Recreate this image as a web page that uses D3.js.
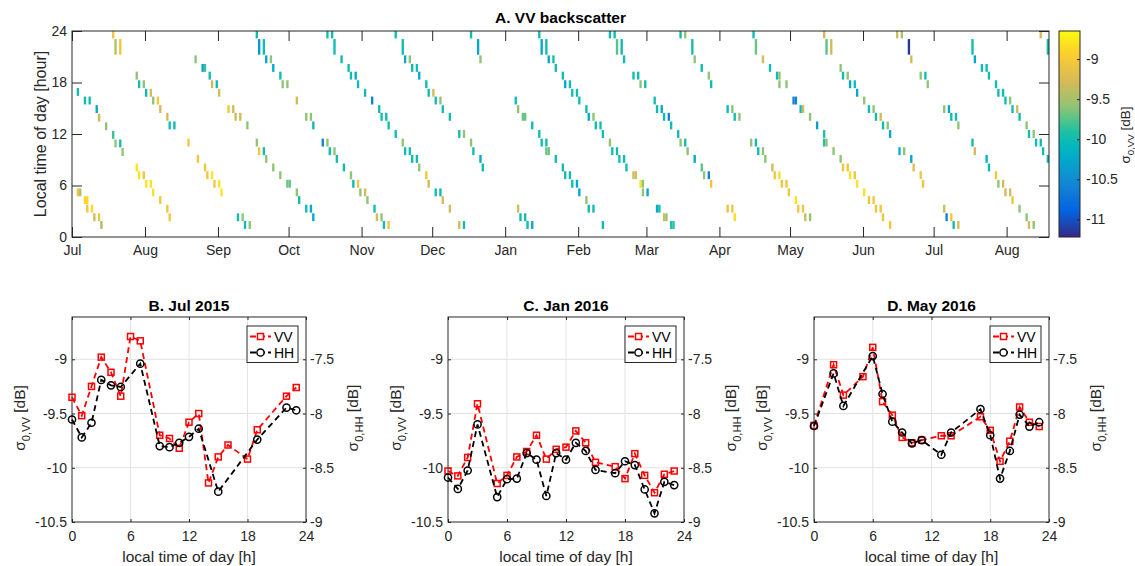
<!DOCTYPE html>
<html lang="en">
<head>
<meta charset="UTF-8">
<title>VV backscatter</title>
<script src="https://d3js.org/d3.v7.min.js"></script>
<style>
  body { margin: 0; background: #fff; }
  svg { font-family: "Liberation Sans", Arial, Helvetica, sans-serif; }
</style>
</head>
<body>
<svg width="1135" height="566"></svg>
<script>
// passes: [days since 1 Jul 2015, local hour, sigma0 VV dB]
const passesJul15 = [
  [2,16.9,-10.0],[5,15.9,-10.0],[7,15.9,-10.0],[10,14.9,-10.25],[11,13.9,-9.35],[14,12.9,-9.6],
  [17,11.9,-9.85],[18,10.9,-9.6],[20,10.9,-9.95],[21,9.9,-9.6],
  [2,5.2,-9.05],[3,5.2,-9.5],[5,4.3,-8.9],[6,4.3,-8.9],[6,3.3,-9.05],[8,3.3,-8.85],[9,2.3,-9.3],
  [11,2.3,-9.05],[12,1.4,-9.5],
  [17,23.6,-9.05],[18,22.6,-9.4],[18,21.7,-9.4],[20,22.6,-9.05],[20,21.7,-9.05],
  [27,8.1,-8.8],[28,7.2,-8.8],[30,7.2,-9.05],[27,18.8,-9.6],[28,17.8,-10.0],[30,17.8,-9.6]
];
const passesAug15 = [
  [31,6.2,-8.8],[33,6.2,-8.8],[34,5.2,-8.8],[37,4.3,-9.05],[40,3.3,-9.05],[41,2.3,-9.05],
  [31,16.8,-10.0],[33,16.8,-9.3],[34,15.9,-9.6],[36,15.9,-9.05],[37,14.9,-9.3],[40,14.0,-9.3],
  [41,13.0,-10.0],[43,13.0,-10.0],
  [49,11.0,-9.05],[53,9.1,-9.05],[56,8.1,-9.05],[57,7.2,-9.05],[59,7.2,-8.8],[60,6.2,-9.05],
  [52,20.7,-9.6],[55,19.7,-10.35],[56,19.7,-9.85],[58,18.8,-10.0],[59,17.8,-9.3],[61,17.8,-10.0]
];
const passesSep15 = [
  [62,6.2,-8.8],[63,5.2,-8.8],
  [62,16.8,-9.3],[66,14.9,-9.05],[68,14.9,-9.3],[69,14.0,-9.3],[71,14.0,-9.3],[74,13.0,-9.6],
  [78,11.0,-9.6],[79,10.0,-9.05],[81,10.0,-10.0],
  [70,2.3,-10.0],[72,2.3,-9.6],[73,1.4,-10.0],[75,1.4,-9.6],
  [78,23.6,-10.0],[79,22.6,-10.4],[79,21.7,-10.4],[81,22.6,-10.0],[81,21.7,-10.0],
  [82,20.7,-10.25],[84,20.7,-9.6],[85,19.7,-10.25],[88,18.8,-10.0],[89,17.8,-9.6],[91,17.8,-9.6],
  [82,9.1,-9.6],[85,8.1,-9.6],[88,7.2,-9.6],[91,6.2,-9.7]
];
const passesOct15 = [
  [92,6.2,-9.7],[95,5.2,-9.6],[96,4.3,-10.0],[99,3.3,-10.0],[101,3.3,-10.25],[102,2.3,-10.25],
  [95,15.9,-9.3],[99,14.0,-9.6],[101,14.0,-9.6],[102,13.0,-10.0],
  [106,11.0,-10.6],[108,11.0,-9.6],[109,10.0,-10.0],[111,10.0,-9.6],[112,9.1,-10.0],[115,8.1,-10.0],
  [118,7.2,-9.6],[119,6.2,-10.0],[121,6.2,-9.05],[122,5.2,-9.6],
  [108,23.6,-10.0],[110,23.6,-10.0],[111,22.6,-10.0],[111,21.7,-10.0],[114,20.7,-10.0],[117,19.7,-10.0],
  [118,18.8,-10.0],[120,18.8,-10.25],[121,17.8,-10.0]
];
const passesNov15 = [
  [124,5.2,-9.3],[125,4.3,-9.6],[128,3.3,-10.0],[129,2.3,-9.3],[131,2.3,-9.6],[132,1.4,-10.0],[134,1.4,-9.05],
  [124,16.8,-10.0],[127,15.9,-10.6],[130,14.9,-10.0],[131,14.0,-10.0],[133,14.0,-10.0],[134,13.0,-10.0],[137,12.0,-10.0],
  [137,23.6,-10.0],[140,22.6,-10.0],[140,21.7,-10.0],[141,20.7,-10.25],[143,20.7,-9.6],[144,19.7,-10.0],
  [146,19.7,-10.0],[147,18.8,-10.25],[150,17.8,-10.0],[151,16.8,-10.0],
  [140,11.0,-9.6],[141,10.0,-10.0],[143,10.0,-10.0],[144,9.1,-10.0],[146,9.1,-10.0],[147,8.1,-9.6],
  [150,7.2,-9.05],[151,6.2,-9.3]
];
const passesDec15 = [
  [153,16.8,-9.3],[154,15.9,-10.0],[156,15.9,-9.6],[157,14.9,-10.0],[160,14.0,-10.0],[164,12.0,-10.0],[166,12.0,-9.6],
  [154,5.2,-10.0],[156,5.2,-10.0],[157,4.3,-9.3],[160,3.3,-9.3],[164,1.4,-9.3],[166,1.4,-10.0],
  [169,23.6,-10.0],[172,22.6,-10.25],[172,21.7,-10.25],[173,20.7,-9.6],
  [169,11.0,-9.6],[170,10.0,-10.0],[173,9.1,-10.25],[174,8.1,-10.0]
];
const passesJan16 = [
  [188,15.9,-10.0],[189,14.9,-9.6],[191,14.0,-9.7],[192,14.0,-9.7],[195,13.0,-10.0],[198,12.0,-10.0],
  [199,11.0,-10.0],[201,11.0,-10.0],[201,10.0,-9.7],[202,10.0,-9.7],[205,9.1,-10.0],[208,8.1,-10.0],
  [209,7.2,-10.0],[211,7.2,-10.0],[212,6.2,-10.0],[214,6.2,-10.25],
  [189,3.3,-9.3],[190,2.3,-10.0],[192,2.3,-10.0],[193,1.4,-10.0],[195,1.4,-10.25],
  [198,23.6,-10.0],[199,22.6,-10.25],[199,21.7,-10.25],[201,22.6,-10.0],[201,21.7,-10.0],[202,20.7,-10.25],
  [204,20.7,-10.0],[205,19.7,-10.0],[208,18.8,-10.0],[209,17.8,-10.25],[211,17.8,-10.0],[212,16.8,-10.0],[214,16.8,-10.0]
];
const passesFeb16 = [
  [215,5.2,-10.25],[218,4.3,-9.6],[219,3.3,-10.0],[221,3.3,-10.0],[225,1.4,-10.0],
  [215,15.9,-10.0],[218,14.9,-10.0],[219,14.0,-10.25],[221,14.0,-9.6],[222,13.0,-10.0],[224,13.0,-10.0],
  [225,12.0,-10.0],[228,11.0,-9.6],[229,10.0,-10.0],[231,10.0,-10.0],[232,9.1,-10.0],[234,9.1,-10.0],
  [235,8.1,-10.0],[238,7.2,-9.3],[239,7.2,-9.3],[241,6.2,-8.8],[242,6.2,-9.6],[242,5.2,-9.6],
  [228,23.6,-10.0],[230,23.6,-10.0],[231,22.6,-9.75],[231,21.7,-9.75],[233,22.6,-10.0],[233,21.7,-10.0],
  [234,20.7,-10.0],[238,18.8,-10.0],[240,18.8,-10.0],[241,17.8,-9.6],[243,17.8,-10.0]
];
const passesMar16 = [
  [244,5.2,-10.25],[248,3.3,-10.25],[249,3.3,-10.0],[251,2.3,-9.3],[252,2.3,-9.6],[254,1.4,-9.9],[255,1.4,-9.9],
  [247,15.9,-10.0],[248,14.9,-10.0],[250,14.9,-10.25],[251,14.0,-10.0],[253,14.0,-10.6],[254,13.0,-10.0],
  [257,12.0,-10.0],[258,11.0,-9.6],[260,11.0,-10.0],[261,10.0,-9.6],[264,9.1,-10.25],[267,8.1,-9.75],
  [268,7.2,-9.6],[270,7.2,-10.6],[271,6.2,-9.05],
  [258,23.6,-10.0],[260,23.6,-9.6],[263,22.6,-9.95],[263,21.7,-9.95],[264,20.7,-9.6],[267,19.7,-10.0],
  [270,18.8,-9.6],[271,17.8,-10.0]
];
const passesApr16 = [
  [278,14.9,-10.0],[280,14.9,-9.6],[281,14.0,-10.0],[283,14.0,-9.6],
  [278,3.3,-9.15],[280,3.3,-9.05],[281,2.3,-8.85],
  [288,11.0,-9.6],[290,11.0,-10.0],[291,10.0,-10.0],[293,10.0,-9.6],[294,9.1,-9.6],[297,8.1,-9.3],
  [298,7.2,-9.05],[300,7.2,-8.8],[301,6.2,-9.05],[303,6.2,-9.05],[304,5.2,-9.05],
  [289,23.6,-10.0],[290,22.6,-9.7],[290,21.7,-9.7],[293,20.7,-9.3],[296,19.7,-10.0],[299,18.8,-10.0],
  [300,18.8,-9.6],[300,17.8,-9.6],[303,17.8,-9.6]
];
const passesMay16 = [
  [307,4.3,-8.8],[308,3.3,-9.05],[310,3.3,-9.05],[311,2.3,-9.3],[313,2.3,-9.6],
  [306,15.9,-10.6],[307,15.9,-10.6],[309,14.9,-10.0],[310,14.9,-9.35],[313,14.0,-9.6],[316,13.0,-10.3],
  [319,12.0,-9.9],[319,11.0,-9.9],[320,11.0,-9.6],[323,10.0,-9.6],[326,9.1,-9.6],[327,8.1,-9.05],
  [329,8.1,-9.05],[330,7.2,-8.8],[332,7.2,-9.05],[333,6.2,-8.8],
  [319,23.6,-9.3],[320,22.6,-9.75],[320,21.7,-9.75],[322,22.6,-9.3],[322,21.7,-9.3],[326,19.7,-9.6],
  [327,18.8,-10.0],[329,18.8,-9.6],[330,17.8,-10.25],[332,17.8,-10.0],[333,16.8,-10.25]
];
const passesJun16 = [
  [336,15.9,-9.6],[338,14.9,-10.0],[340,14.9,-9.6],[341,14.0,-10.0],[343,14.0,-9.3],[344,13.0,-10.0],
  [346,13.0,-9.6],[347,12.0,-10.25],[351,10.0,-10.15],[353,10.0,-9.6],[356,9.1,-10.25],[357,8.1,-9.2],
  [360,7.2,-9.05],[361,6.2,-9.05],
  [336,5.2,-8.8],[338,4.3,-9.05],[340,4.3,-9.05],[341,3.3,-9.05],[343,3.3,-9.05],[344,2.3,-9.05],[347,1.4,-9.05],
  [350,23.6,-9.3],[352,23.6,-9.5],[355,22.6,-11.15],[355,21.7,-11.15],[356,20.7,-9.3],[360,18.8,-9.6],
  [362,18.8,-10.0],[363,17.8,-9.6]
];
const passesJul16 = [
  [370,14.9,-9.6],[372,14.9,-10.25],[373,14.0,-10.0],[375,14.0,-10.0],[376,13.0,-9.6],
  [370,3.3,-9.3],[371,2.3,-10.6],[373,2.3,-9.05],[374,1.4,-10.0],[376,1.4,-9.3],
  [382,22.6,-10.0],[382,21.7,-10.0],[383,20.7,-10.25],[386,19.7,-10.0],[388,19.7,-10.0],[389,18.8,-10.0],
  [392,17.8,-10.0],[393,16.8,-10.0],[395,16.8,-10.0],[396,15.9,-10.0],
  [382,11.0,-10.0],[383,10.0,-9.3],[388,9.1,-10.15],[389,8.1,-10.0],[392,7.2,-9.05],[393,6.2,-9.6],
  [395,6.2,-9.3],[396,5.2,-9.3]
];
const passesAug16 = [
  [398,15.9,-9.6],[399,14.9,-10.0],[401,14.9,-9.3],[402,14.0,-10.0],[405,13.0,-9.6],[406,12.0,-10.0],
  [408,12.0,-9.6],[409,11.0,-10.0],[411,11.0,-10.0],[412,10.0,-10.0],[414,9.1,-10.0],
  [398,5.2,-9.3],[399,4.3,-9.05],[402,3.3,-9.6],[405,2.3,-9.6],[406,1.4,-9.3],[408,1.4,-9.6],
  [411,23.6,-9.3],[414,22.6,-9.95],[414,21.7,-9.95]
];

// mean diurnal cycles, hours 0..23 (null = no data)
const jul15VV = [-9.35,-9.52,-9.25,-8.98,-9.12,-9.34,-8.79,-8.83,null,-9.70,-9.73,-9.82,
                 -9.58,-9.50,-10.14,-9.90,-9.79,null,-9.92,-9.65,null,null,-9.34,-9.26];
const jul15HH = [-8.055,-8.22,-8.085,-7.69,-7.74,-7.755,null,-7.54,null,-8.30,-8.31,-8.27,
                 -8.215,-8.14,null,-8.72,null,null,null,-8.24,null,null,-7.945,-7.97];
const jan16VV = [-10.03,-10.075,-9.905,-9.41,null,-10.145,-10.07,-9.90,-9.85,-9.70,-9.92,-9.83,
                 -9.81,-9.66,-9.77,-9.95,null,-9.99,-10.10,-9.87,-10.07,-10.23,-10.06,-10.03];
const jan16HH = [-8.59,-8.695,-8.525,-8.10,null,-8.77,-8.605,-8.60,-8.365,-8.425,-8.76,-8.365,
                 -8.425,-8.27,-8.345,-8.52,null,-8.55,-8.44,-8.475,-8.70,-8.92,-8.63,-8.66];
const may16VV = [-9.61,null,-9.05,-9.33,null,-9.16,-8.89,-9.39,-9.515,-9.72,-9.77,-9.745,
                 null,-9.705,-9.705,null,null,-9.53,-9.655,-9.94,-9.755,-9.44,-9.58,-9.62];
const may16HH = [-8.115,null,-7.63,-7.93,null,null,-7.47,-7.82,-8.075,-8.175,-8.275,-8.245,
                 null,-8.38,-8.175,null,null,-7.96,-8.20,-8.60,-8.345,-8.01,-8.12,-8.08];

const hourTicks = [0, 6, 12, 18, 24];
const vvTicks = [-10.5, -10, -9.5, -9];
const hhTicks = [-9, -8.5, -8, -7.5];
const cbarTicks = [-11, -10.5, -10, -9.5, -9];

// parula-like colormap (positions on a 64-step table)
const parulaIdx = [0, 8, 16, 24, 28, 32, 36, 40, 48, 56, 63];
const parulaHex = ["#352a87", "#0363e1", "#1485d4", "#03a9cc", "#05b8bc", "#1dc0a4",
                   "#55c48a", "#92c474", "#d9ba56", "#fcce2e", "#f9fb0e"];

const ink = "#262626";
const svg = d3.select("svg");

// ---------- A. VV backscatter ----------
const A = {l: 72, r: 1049, t: 31, b: 237};
const t0 = new Date(Date.UTC(2015, 6, 1));
const dayDate = d => d3.utcDay.offset(t0, d);
const x = d3.scaleUtc().domain([t0, dayDate(415)]).range([A.l, A.r]);
const yHour = d3.scaleLinear().domain([0, 24]).range([A.b, A.t]);

const cMin = -11.22, cMax = -8.65;
const color = d3.scaleLinear()
  .domain(parulaIdx.map(i => cMin + i / 63 * (cMax - cMin)))
  .range(parulaHex)
  .clamp(true);

const passes = [].concat(passesJul15, passesAug15, passesSep15, passesOct15, passesNov15,
  passesDec15, passesJan16, passesFeb16, passesMar16, passesApr16, passesMay16,
  passesJun16, passesJul16, passesAug16);

svg.append("clipPath").attr("id", "clipA").append("rect")
  .attr("x", A.l).attr("y", A.t).attr("width", A.r - A.l).attr("height", A.b - A.t);

svg.append("g").attr("clip-path", "url(#clipA)")
  .selectAll("rect").data(passes).join("rect")
  .attr("x", d => x(dayDate(d[0])))
  .attr("width", d => x(dayDate(d[0] + 1)) - x(dayDate(d[0])))
  .attr("y", d => yHour(d[1] + 0.46))
  .attr("height", d => yHour(d[1] - 0.46) - yHour(d[1] + 0.46))
  .attr("fill", d => color(d[2]));

function styleAxis(g, size) {
  g.select(".domain").remove();
  g.selectAll(".tick line").attr("stroke", ink);
  g.selectAll(".tick text").attr("fill", ink).attr("font-size", size)
    .attr("font-family", '"Liberation Sans", Arial, Helvetica, sans-serif');
}

const months = d3.utcMonth.every(1);
svg.append("g").attr("transform", `translate(0,${A.b})`)
  .call(d3.axisBottom(x).ticks(months).tickFormat(d3.utcFormat("%b"))
    .tickSizeInner(-10).tickSizeOuter(0).tickPadding(8))
  .call(g => styleAxis(g, 14));
svg.append("g").attr("transform", `translate(0,${A.t})`)
  .call(d3.axisTop(x).ticks(months).tickFormat("").tickSizeInner(-10).tickSizeOuter(0))
  .call(g => styleAxis(g, 14));
svg.append("g").attr("transform", `translate(${A.l},0)`)
  .call(d3.axisLeft(yHour).tickValues(hourTicks).tickSizeInner(-10).tickSizeOuter(0).tickPadding(5))
  .call(g => styleAxis(g, 14));
svg.append("g").attr("transform", `translate(${A.r},0)`)
  .call(d3.axisRight(yHour).tickValues(hourTicks).tickFormat("").tickSizeInner(-10).tickSizeOuter(0))
  .call(g => styleAxis(g, 14));
svg.append("rect").attr("x", A.l).attr("y", A.t).attr("width", A.r - A.l).attr("height", A.b - A.t)
  .attr("fill", "none").attr("stroke", ink).attr("stroke-width", 1);

svg.append("text").attr("x", (A.l + A.r) / 2).attr("y", 23).attr("text-anchor", "middle")
  .attr("font-size", 15.5).attr("font-weight", "bold").attr("fill", "#000").text("A. VV backscatter");
svg.append("text").attr("transform", `translate(46,${(A.t + A.b) / 2}) rotate(-90)`)
  .attr("text-anchor", "middle").attr("font-size", 16).attr("fill", ink)
  .text("Local time of day [hour]");

// colorbar
const CB = {l: 1059, r: 1080};
const cbY = d3.scaleLinear().domain([cMin, cMax]).range([A.b, A.t]);
const grad = svg.append("defs").append("linearGradient").attr("id", "parula")
  .attr("x1", 0).attr("y1", 1).attr("x2", 0).attr("y2", 0);
grad.selectAll("stop").data(parulaIdx).join("stop")
  .attr("offset", i => i / 63).attr("stop-color", (i, k) => parulaHex[k]);
svg.append("rect").attr("x", CB.l).attr("y", A.t).attr("width", CB.r - CB.l).attr("height", A.b - A.t)
  .attr("fill", "url(#parula)").attr("stroke", ink).attr("stroke-width", 1);
svg.append("g").attr("transform", `translate(${CB.r},0)`)
  .call(d3.axisRight(cbY).tickValues(cbarTicks).tickFormat(d => String(d))
    .tickSizeInner(-3).tickSizeOuter(0).tickPadding(6))
  .call(g => styleAxis(g, 14));

function sigmaLabel(px, py, sub, size) {
  const t = svg.append("text").attr("transform", `translate(${px},${py}) rotate(-90)`)
    .attr("text-anchor", "middle").attr("font-size", size).attr("fill", ink);
  t.append("tspan").text("σ");
  t.append("tspan").attr("font-size", size * 0.72).attr("dy", size * 0.32).text(sub);
  t.append("tspan").attr("dy", -size * 0.32).text(" [dB]");
}
sigmaLabel(1130, 135, "0,VV", 13.5);

// ---------- B, C, D diurnal cycles ----------
const P = {t: 317, b: 522};
const panels = [
  {title: "B. Jul 2015", l: 72, r: 306, vv: jul15VV, hh: jul15HH},
  {title: "C. Jan 2016", l: 448, r: 684, vv: jan16VV, hh: jan16HH},
  {title: "D. May 2016", l: 814, r: 1049, vv: may16VV, hh: may16HH}
];

panels.forEach(p => {
  const xs = d3.scaleLinear().domain([0, 24]).range([p.l, p.r]);
  const yv = d3.scaleLinear().domain([-10.5, -8.61]).range([P.b, P.t]);
  const yh = d3.scaleLinear().domain([-9, -7.11]).range([P.b, P.t]);
  const g = svg.append("g");

  // grid
  g.selectAll(".gx").data(hourTicks.slice(1, -1)).join("line")
    .attr("x1", d => xs(d)).attr("x2", d => xs(d)).attr("y1", P.t).attr("y2", P.b)
    .attr("stroke", "#e3e3e3").attr("stroke-width", 1);
  g.selectAll(".gy").data(vvTicks.slice(1)).join("line")
    .attr("x1", p.l).attr("x2", p.r).attr("y1", d => yv(d)).attr("y2", d => yv(d))
    .attr("stroke", "#e3e3e3").attr("stroke-width", 1);

  g.append("g").attr("transform", `translate(0,${P.b})`)
    .call(d3.axisBottom(xs).tickValues(hourTicks).tickSizeInner(-3).tickSizeOuter(0).tickPadding(9))
    .call(a => styleAxis(a, 14));
  g.append("g").attr("transform", `translate(0,${P.t})`)
    .call(d3.axisTop(xs).tickValues(hourTicks).tickFormat("").tickSizeInner(-3).tickSizeOuter(0))
    .call(a => styleAxis(a, 14));
  g.append("g").attr("transform", `translate(${p.l},0)`)
    .call(d3.axisLeft(yv).tickValues(vvTicks).tickFormat(d => String(d))
      .tickSizeInner(-3).tickSizeOuter(0).tickPadding(5))
    .call(a => styleAxis(a, 14));
  g.append("g").attr("transform", `translate(${p.r},0)`)
    .call(d3.axisRight(yh).tickValues(hhTicks).tickFormat(d => String(d))
      .tickSizeInner(-3).tickSizeOuter(0).tickPadding(4))
    .call(a => styleAxis(a, 14));
  g.append("rect").attr("x", p.l).attr("y", P.t).attr("width", p.r - p.l).attr("height", P.b - P.t)
    .attr("fill", "none").attr("stroke", ink).attr("stroke-width", 1);

  const vvPts = p.vv.map((v, h) => [h, v]).filter(d => d[1] !== null);
  const hhPts = p.hh.map((v, h) => [h, v]).filter(d => d[1] !== null);

  g.append("path").datum(vvPts)
    .attr("d", d3.line().x(d => xs(d[0])).y(d => yv(d[1])))
    .attr("fill", "none").attr("stroke", "#ff0000").attr("stroke-width", 1.8)
    .attr("stroke-dasharray", "6,4");
  g.selectAll(".sq").data(vvPts).join("rect")
    .attr("x", d => xs(d[0]) - 3).attr("y", d => yv(d[1]) - 3)
    .attr("width", 6).attr("height", 6)
    .attr("fill", "none").attr("stroke", "#ff0000").attr("stroke-width", 1.5);

  g.append("path").datum(hhPts)
    .attr("d", d3.line().x(d => xs(d[0])).y(d => yh(d[1])))
    .attr("fill", "none").attr("stroke", "#000").attr("stroke-width", 1.8)
    .attr("stroke-dasharray", "6,4");
  g.selectAll(".ci").data(hhPts).join("circle")
    .attr("cx", d => xs(d[0])).attr("cy", d => yh(d[1])).attr("r", 3.6)
    .attr("fill", "none").attr("stroke", "#000").attr("stroke-width", 1.5);

  // legend
  const lx = p.r - 59, ly = P.t + 9;
  const lg = g.append("g");
  lg.append("rect").attr("x", lx).attr("y", ly).attr("width", 51).attr("height", 36.5)
    .attr("fill", "#fff").attr("stroke", ink).attr("stroke-width", 1);
  [["VV", "#ff0000", "sq"], ["HH", "#000", "ci"]].forEach(([lab, col, mk], i) => {
    const yy = ly + 10.5 + i * 16;
    lg.append("line").attr("x1", lx + 3).attr("x2", lx + 24).attr("y1", yy).attr("y2", yy)
      .attr("stroke", col).attr("stroke-width", 1.8).attr("stroke-dasharray", "6,3");
    if (mk === "sq") {
      lg.append("rect").attr("x", lx + 10.5).attr("y", yy - 3).attr("width", 6).attr("height", 6)
        .attr("fill", "#fff").attr("stroke", col).attr("stroke-width", 1.5);
    } else {
      lg.append("circle").attr("cx", lx + 13.5).attr("cy", yy).attr("r", 3.6)
        .attr("fill", "#fff").attr("stroke", col).attr("stroke-width", 1.5);
    }
    lg.append("text").attr("x", lx + 27).attr("y", yy + 5).attr("font-size", 14)
      .attr("fill", "#000").text(lab);
  });

  g.append("text").attr("x", (p.l + p.r) / 2).attr("y", 311).attr("text-anchor", "middle")
    .attr("font-size", 15.5).attr("font-weight", "bold").attr("fill", "#000").text(p.title);
  g.append("text").attr("x", (p.l + p.r) / 2).attr("y", 562).attr("text-anchor", "middle")
    .attr("font-size", 15.5).attr("fill", ink).text("local time of day [h]");
  sigmaLabel(p.l - 47, 418, "0,VV", 15.5);
  sigmaLabel(p.r + 52, 418, "0,HH", 15.5);
});
</script>
</body>
</html>
